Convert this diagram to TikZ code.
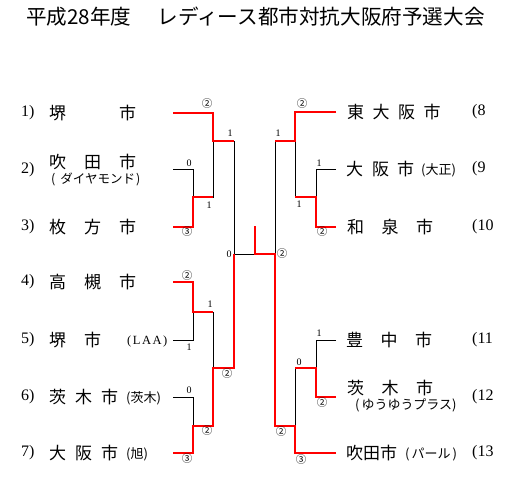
\documentclass[tikz,border=0pt]{standalone}
\usepackage{fontspec}
\setmainfont{Liberation Serif}
\newfontfamily\cjk{Noto Sans CJK JP}
\begin{document}
\begin{tikzpicture}[x=1pt,y=-1pt,
  blk/.style={draw=black,line width=0.9pt},
  win/.style={draw=red,line width=2.7pt,line join=miter},
  lbl/.style={inner sep=0pt,font=\fontsize{10}{10}\selectfont},
  circ/.style={inner sep=0pt,font=\cjk\fontsize{10.5}{10.5}\selectfont},
  cname/.style={inner sep=0pt,anchor=west,font=\cjk\fontsize{17}{17}\selectfont},
  csub/.style={inner sep=0pt,anchor=west,font=\cjk\fontsize{13}{13}\selectfont},
  cnum/.style={inner sep=0pt,anchor=west,font=\fontsize{16}{16}\selectfont}]
\useasboundingbox (0,0) rectangle (511,478);

% title
\node[inner sep=0pt,anchor=west,font=\cjk\fontsize{20.6}{20.6}\selectfont] (title) at (26,17)
  {平成28年度\hspace{26pt}レディース都市対抗大阪府予選大会};

% left entries
\node[cnum] (k1) at (21,113) {1)};
\node[cnum] (k2) at (21,170) {2)};
\node[cnum] (k3) at (21,227) {3)};
\node[cnum] (k4) at (21,282) {4)};
\node[cnum] (k5) at (21,340) {5)};
\node[cnum] (k6) at (21,397) {6)};
\node[cnum] (k7) at (21,453) {7)};

\node[cname] (n1) at (49,113) {堺\hspace{53pt}市};
\node[cname] (n2) at (49,162) {吹\hspace{18pt}田\hspace{18pt}市};
\node[csub,font=\cjk\fontsize{12.5}{12.5}\selectfont] (s2) at (51,179) {(\hspace{5pt}ダイヤモンド\hspace{1pt})};
\node[cname] (n3) at (49,227) {枚\hspace{18pt}方\hspace{18pt}市};
\node[cname] (n4) at (49,282) {高\hspace{18pt}槻\hspace{18pt}市};
\node[cname] (n5) at (49,340) {堺\hspace{18pt}市};
\node[inner sep=0pt,anchor=west,font=\fontsize{12.5}{12.5}\selectfont] (s5) at (127,341) {(\hspace{1.5pt}L\hspace{1.5pt}A\hspace{1.5pt}A\hspace{1.5pt})};
\node[cname] (n6) at (49,397) {茨\hspace{9pt}木\hspace{9pt}市};
\node[csub] (s6) at (126,398) {(茨木)};
\node[cname] (n7) at (49,453) {大\hspace{9pt}阪\hspace{9pt}市};
\node[csub] (s7) at (126,454) {(旭)};

% right entries
\node[cname] (n8) at (347,112) {東\hspace{8.5pt}大\hspace{8.5pt}阪\hspace{8.5pt}市};
\node[cname] (n9) at (346,169) {大\hspace{9pt}阪\hspace{8pt}市};
\node[csub] (s9) at (421,170) {(大正)};
\node[cname] (n10) at (347,227) {和\hspace{17.5pt}泉\hspace{17.5pt}市};
\node[cname] (n11) at (346,340) {豊\hspace{17.5pt}中\hspace{17.5pt}市};
\node[cname] (n12) at (347,388) {茨\hspace{17.5pt}木\hspace{17.5pt}市};
\node[csub] (s12) at (355,405) {(\hspace{2pt}ゆうゆうプラス)};
\node[cname] (n13) at (346,453) {吹田市};
\node[csub] (s13) at (405,454) {(\hspace{2pt}パール\hspace{2pt})};

\node[cnum] (k8) at (472,112) {(8};
\node[cnum] (k9) at (472,169) {(9};
\node[cnum] (k10) at (472,227) {(10};
\node[cnum] (k11) at (472,340) {(11};
\node[cnum] (k12) at (472,397) {(12};
\node[cnum] (k13) at (472,453) {(13};

% bracket coordinates
\coordinate (e1) at (173,113);
\coordinate (e2) at (173,169);
\coordinate (e3) at (173,227);
\coordinate (e4) at (173,282);
\coordinate (e5) at (173,340);
\coordinate (e6) at (173,397);
\coordinate (e7) at (173,453);
\coordinate (a23) at (193,197);
\coordinate (a45) at (193,312);
\coordinate (a67) at (193,426);
\coordinate (b1) at (213,141);
\coordinate (b2) at (213,368);
\coordinate (c1) at (234,254);
\coordinate (f) at (255,254);
\coordinate (champ) at (255,226);
\coordinate (e8) at (336,112);
\coordinate (e9) at (336,169);
\coordinate (e10) at (336,227);
\coordinate (e11) at (336,340);
\coordinate (e12) at (336,397);
\coordinate (e13) at (336,453);
\coordinate (a910) at (316,197);
\coordinate (a1112) at (316,368);
\coordinate (b3) at (295,141);
\coordinate (b4) at (295,426);
\coordinate (c2) at (275,254);

% black lines
\draw[blk] (e2) -| (a23);
\draw[blk] (e5) -| (a45);
\draw[blk] (e6) -| (a67);
\draw[blk] (a23) -| (b1);
\draw[blk] (b1) -| (c1);
\draw[blk] (a45) -| (b2);
\draw[blk] (c1) -- (f);
\draw[blk] (e9) -| (a910);
\draw[blk] (e11) -| (a1112);
\draw[blk] (a910) -| (b3);
\draw[blk] (b3) -| (c2);
\draw[blk] (a1112) -| (b4);

% winners
\draw[win] (e1) -| (b1) -- (b1 -| c1);
\draw[win] (e3) -| (a23) -- (a23 -| b1);
\draw[win] (e4) -| (a45) -- (a45 -| b2);
\draw[win] (e7) -| (a67) -- (a67 -| b2) -- (b2) -- (b2 -| c1) -- (c1);
\draw[win] (e8) -| (b3) -- (b3 -| c2);
\draw[win] (e10) -| (a910) -- (a910 -| b3);
\draw[win] (e12) -| (a1112) -- (a1112 -| b4);
\draw[win] (e13) -| (b4) -- (b4 -| c2) -- (c2) -- (f) -- (champ);

% scores
\node[circ] (p1) at (207,104) {②};
\node[lbl] (p2) at (230,133) {1};
\node[lbl] (p3) at (189,163) {0};
\node[lbl] (p4) at (209,205) {1};
\node[circ] (p5) at (187,232) {③};
\node[circ] (p6) at (187,276) {②};
\node[lbl] (p7) at (210,304) {1};
\node[lbl] (p8) at (189,347) {1};
\node[circ] (p9) at (227,374) {②};
\node[lbl] (p10) at (189,390) {0};
\node[circ] (p11) at (207,431) {②};
\node[circ] (p12) at (187,459) {③};
\node[lbl] (p13) at (229,254) {0};
\node[circ] (q1) at (302,104) {②};
\node[lbl] (q2) at (278,133) {1};
\node[lbl] (q3) at (319,163) {1};
\node[lbl] (q4) at (299,204) {1};
\node[circ] (q5) at (322,232) {②};
\node[lbl] (q6) at (319,333) {1};
\node[lbl] (q7) at (299,362) {0};
\node[circ] (q8) at (322,403) {②};
\node[circ] (q9) at (281,432) {②};
\node[circ] (q10) at (301,460) {③};
\node[circ] (q11) at (282,254) {②};
\end{tikzpicture}
\end{document}
